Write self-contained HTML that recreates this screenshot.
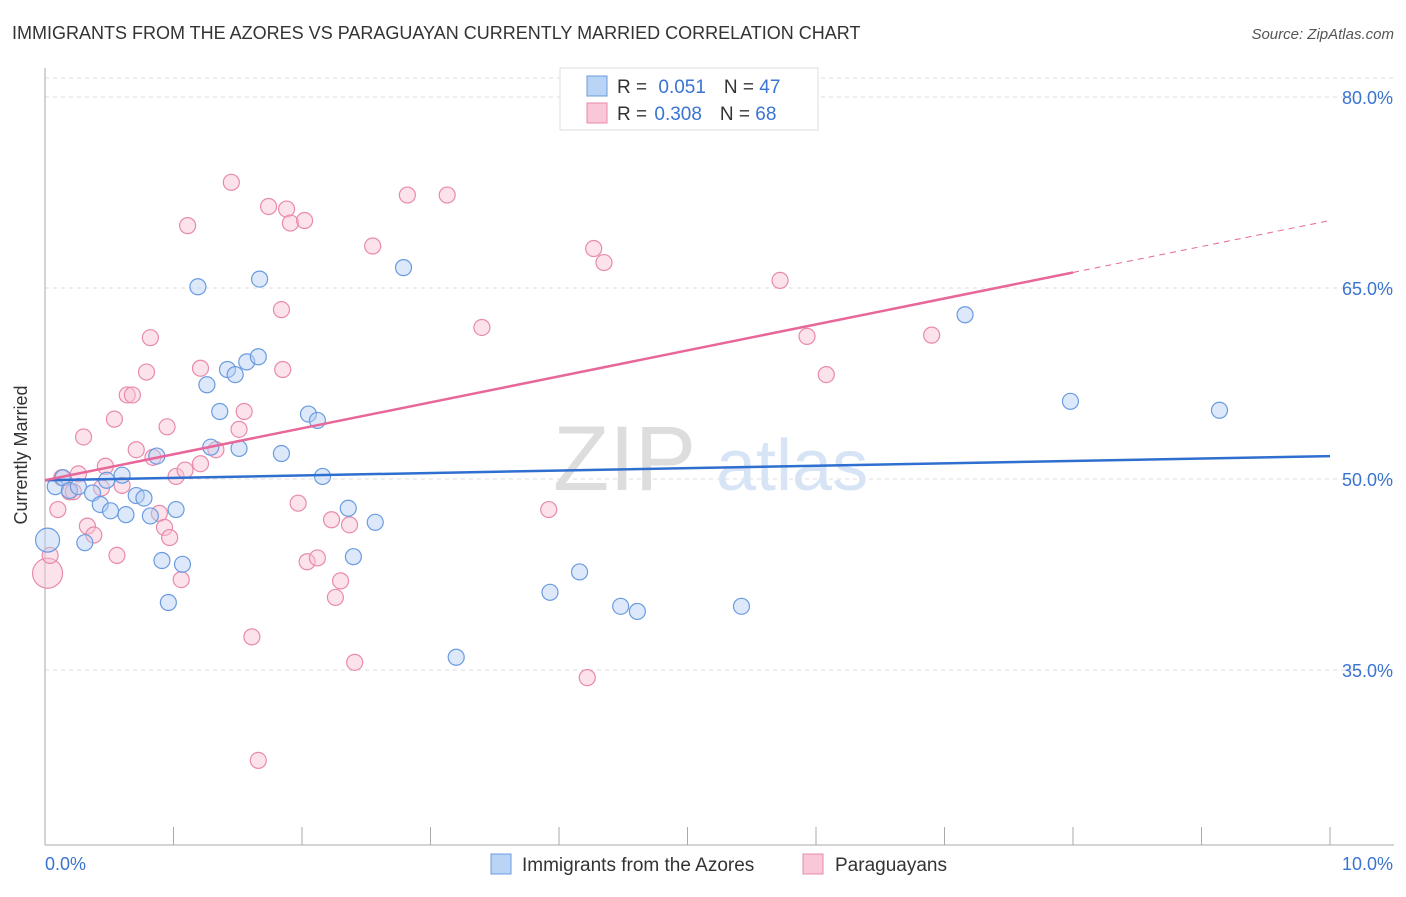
<!DOCTYPE html>
<html><head><meta charset="utf-8"><style>
body{margin:0;background:#fff;font-family:"Liberation Sans",sans-serif;}
svg text{font-family:"Liberation Sans",sans-serif;}
</style></head><body>
<svg width="1406" height="892" xmlns="http://www.w3.org/2000/svg">
<text x="12" y="39" font-size="18" fill="#333">IMMIGRANTS FROM THE AZORES VS PARAGUAYAN CURRENTLY MARRIED CORRELATION CHART</text>
<text x="1394" y="39" font-size="15" fill="#555" text-anchor="end" font-style="italic">Source: ZipAtlas.com</text>
<g id="grid"></g>
<g><text x="553" y="490" font-size="92" fill="#ddd" font-family="Liberation Serif">ZIP</text><text x="716" y="490" font-size="72" fill="#d6e4f5">atlas</text></g>
<g id="axes"></g>
<g id="pts"></g>
<g id="trend"></g>
<text x="27" y="455" font-size="18" fill="#333" text-anchor="middle" transform="rotate(-90 27 455)">Currently Married</text>
<g>
<rect x="560" y="68" width="258" height="62" fill="#fff" stroke="#ddd"/>
<rect x="587" y="76" width="20" height="20" fill="#b9d4f5" stroke="#6a9be0"/>
<rect x="587" y="103" width="20" height="20" fill="#f9c8d8" stroke="#e98aaa"/>
<text x="617" y="93" font-size="19" fill="#333">R = <tspan fill="#3a74d0" dx="6">0.051</tspan><tspan dx="18">N = </tspan><tspan fill="#3a74d0">47</tspan></text>
<text x="617" y="120" font-size="19" fill="#333">R = <tspan fill="#3a74d0" dx="2">0.308</tspan><tspan dx="18">N = </tspan><tspan fill="#3a74d0">68</tspan></text>
</g>
<g>
<rect x="491" y="854" width="20" height="20" fill="#b9d4f5" stroke="#6a9be0"/>
<text x="522" y="871" font-size="19" fill="#333">Immigrants from the Azores</text>
<rect x="803" y="854" width="20" height="20" fill="#f9c8d8" stroke="#e98aaa"/>
<text x="835" y="871" font-size="19" fill="#333">Paraguayans</text>
</g>
</svg>
<script>
const yTicks=[35,50,65,80];
const yTickLabels=["35.0%","50.0%","65.0%","80.0%"];
const xTickLabels=["0.0%","10.0%"];
const blueX=[.02,.08,.14,.19,.26,.31,.37,.43,.48,.51,.60,.63,.71,.77,.82,.87,.91,.96,1.02,1.07,1.19,1.26,1.29,1.36,1.42,1.48,1.51,1.57,1.66,1.67,1.84,2.05,2.12,2.16,2.36,2.40,2.57,2.79,3.20,3.93,4.16,4.48,4.61,5.42,7.16,7.98,9.14];
const blueY=[45.2,49.4,50.1,49.1,49.4,45.0,48.9,48.0,49.9,47.5,50.3,47.2,48.7,48.5,47.1,51.8,43.6,40.3,47.6,43.3,65.1,57.4,52.5,55.3,58.6,58.2,52.4,59.2,59.6,65.7,52.0,55.1,54.6,50.2,47.7,43.9,46.6,66.6,36.0,41.1,42.7,40.0,39.6,40.0,62.9,56.1,55.4];
const pinkX=[.02,.04,.10,.13,.19,.22,.26,.30,.33,.38,.44,.47,.54,.56,.60,.64,.68,.71,.79,.82,.84,.89,.93,.95,.97,1.02,1.06,1.09,1.11,1.21,1.21,1.33,1.45,1.51,1.55,1.61,1.66,1.74,1.84,1.85,1.88,1.91,1.97,2.02,2.04,2.12,2.23,2.26,2.30,2.37,2.41,2.55,2.82,3.13,3.40,3.92,4.22,4.27,4.35,5.72,5.93,6.08,6.90];
const pinkY=[42.6,44.0,47.6,50.1,49.0,49.0,50.4,53.3,46.3,45.6,49.3,51.0,54.7,44.0,49.5,56.6,56.6,52.3,58.4,61.1,51.7,47.3,46.2,54.1,45.4,50.2,42.1,50.7,69.9,58.7,51.2,52.3,73.3,53.9,55.3,37.6,27.9,71.4,63.3,58.6,71.2,70.1,48.1,70.3,43.5,43.8,46.8,40.7,42.0,46.4,35.6,68.3,72.3,72.3,61.9,47.6,34.4,68.1,67.0,65.6,61.2,58.2,61.3];
const blueTrend=[49.9,51.8];
const pinkTrend=[49.9,70.3];
const pinkSolidEnd=8;
const NS="http://www.w3.org/2000/svg";
const X=v=>45+v*128.5, Y=v=>479-(v-50)*12.733;
function mk(t,a,p){const e=document.createElementNS(NS,t);for(const k in a)e.setAttribute(k,a[k]);p.appendChild(e);return e;}
const grid=document.getElementById('grid'),axes=document.getElementById('axes'),pts=document.getElementById('pts'),tr=document.getElementById('trend');
yTicks.forEach((v,i)=>{
 const l=mk('line',{x1:45,x2:1394,y1:Y(v),y2:Y(v),stroke:'#ddd','stroke-dasharray':'4 4'},grid);
 
 
 const t=mk('text',{x:1393,y:Y(v)+7,'font-size':18,fill:'#3a74d0','text-anchor':'end'},axes);t.textContent=yTickLabels[i];
 
 
});
const tg=mk('line',{x1:45,x2:1394,y1:78,y2:78,stroke:'#ddd','stroke-dasharray':'4 4'},grid);


const ax=mk('line',{x1:45,x2:45,y1:68,y2:845,stroke:'#aaa'},axes);


const bx=mk('line',{x1:45,x2:1394,y1:845,y2:845,stroke:'#aaa'},axes);


for(let i=0;i<=10;i++){const t=mk('line',{x1:X(i),x2:X(i),y1:827,y2:845,stroke:'#aaa'},axes);
 
 }
[[0,'start',45],[10,'end',1393]].forEach((d,i)=>{const t=mk('text',{x:d[2],y:870,'font-size':18,fill:'#3a74d0','text-anchor':d[1]},axes);t.textContent=xTickLabels[i];
 
 });
function dots(xs,ys,fill,stroke,name){xs.forEach((x,i)=>{const c=mk('circle',{cx:X(x),cy:Y(ys[i]),r:i==0?(name=='pink-point'?15:12):8,fill:fill,'fill-opacity':0.45,stroke:stroke,'stroke-width':1.2},pts);
 
 });}
dots(pinkX,pinkY,'#f9c0d2','#e98aaa','pink-point');
dots(blueX,blueY,'#b3cff3','#6a9be0','blue-point');
const bl=mk('line',{x1:X(0),y1:Y(blueTrend[0]),x2:X(10),y2:Y(blueTrend[1]),stroke:'#2f6fd0','stroke-width':2.5},tr);


const pm=y=>pinkTrend[0]+(pinkTrend[1]-pinkTrend[0])*y/10;
const pl=mk('line',{x1:X(0),y1:Y(pinkTrend[0]),x2:X(pinkSolidEnd),y2:Y(pm(pinkSolidEnd)),stroke:'#e8679a','stroke-width':2.5},tr);


const pd=mk('line',{x1:X(pinkSolidEnd),y1:Y(pm(pinkSolidEnd)),x2:X(10),y2:Y(pinkTrend[1]),stroke:'#e8679a','stroke-width':1,'stroke-dasharray':'6 5'},tr);


</script>
</body></html>
